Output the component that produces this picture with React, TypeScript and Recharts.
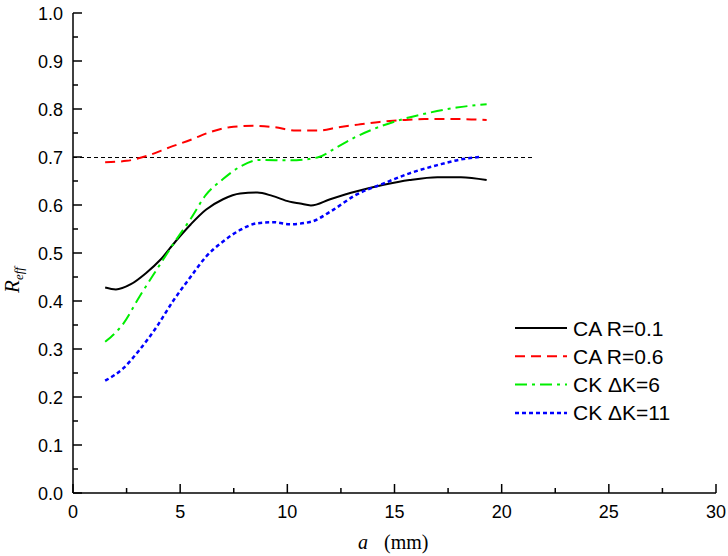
import { LineChart, Line, XAxis, YAxis, Label } from 'recharts'

// a (mm) vs R_eff
const caR01 = [
  { a: 1.5, r: 0.428 }, { a: 2.0, r: 0.424 }, { a: 2.7, r: 0.435 }, { a: 3.4, r: 0.458 },
  { a: 4.1, r: 0.487 }, { a: 4.8, r: 0.525 }, { a: 5.5, r: 0.56 }, { a: 6.2, r: 0.59 },
  { a: 7.0, r: 0.612 }, { a: 7.8, r: 0.624 }, { a: 8.6, r: 0.626 }, { a: 9.3, r: 0.619 },
  { a: 10.1, r: 0.607 }, { a: 10.6, r: 0.603 }, { a: 11.1, r: 0.599 }, { a: 12.0, r: 0.612 },
  { a: 13.2, r: 0.628 }, { a: 14.5, r: 0.642 }, { a: 15.7, r: 0.652 }, { a: 17.0, r: 0.658 },
  { a: 18.1, r: 0.658 }, { a: 19.3, r: 0.652 },
]

const caR06 = [
  { a: 1.5, r: 0.689 }, { a: 2.5, r: 0.692 }, { a: 3.5, r: 0.703 }, { a: 4.5, r: 0.72 },
  { a: 5.5, r: 0.736 }, { a: 6.4, r: 0.752 }, { a: 7.3, r: 0.762 }, { a: 8.4, r: 0.765 },
  { a: 9.4, r: 0.762 }, { a: 10.4, r: 0.755 }, { a: 11.4, r: 0.755 }, { a: 12.4, r: 0.762 },
  { a: 13.4, r: 0.768 }, { a: 14.3, r: 0.773 }, { a: 15.4, r: 0.777 }, { a: 16.4, r: 0.779 },
  { a: 18.1, r: 0.779 }, { a: 19.3, r: 0.777 },
]

const ckDK6 = [
  { a: 1.5, r: 0.315 }, { a: 2.35, r: 0.353 }, { a: 3.1, r: 0.409 }, { a: 3.9, r: 0.465 },
  { a: 4.7, r: 0.52 }, { a: 5.5, r: 0.572 }, { a: 6.2, r: 0.621 }, { a: 7.0, r: 0.654 },
  { a: 7.8, r: 0.68 }, { a: 8.7, r: 0.694 }, { a: 10.1, r: 0.693 }, { a: 11.4, r: 0.699 },
  { a: 12.3, r: 0.72 }, { a: 13.2, r: 0.742 }, { a: 14.3, r: 0.763 }, { a: 15.4, r: 0.779 },
  { a: 16.7, r: 0.793 }, { a: 17.9, r: 0.803 }, { a: 19.3, r: 0.81 },
]

const ckDK11 = [
  { a: 1.5, r: 0.234 }, { a: 2.35, r: 0.26 }, { a: 3.1, r: 0.298 }, { a: 3.9, r: 0.346 },
  { a: 4.7, r: 0.402 }, { a: 5.5, r: 0.451 }, { a: 6.2, r: 0.492 }, { a: 7.0, r: 0.524 },
  { a: 7.8, r: 0.548 }, { a: 8.6, r: 0.562 }, { a: 9.4, r: 0.564 }, { a: 10.1, r: 0.56 },
  { a: 11.1, r: 0.565 }, { a: 12.0, r: 0.586 }, { a: 13.2, r: 0.621 }, { a: 14.5, r: 0.645 },
  { a: 15.7, r: 0.666 }, { a: 17.0, r: 0.683 }, { a: 18.1, r: 0.695 }, { a: 19.0, r: 0.7 },
]

const refLine = [{ a: 0, r: 0.7 }, { a: 21.4, r: 0.7 }]

const xTicks = [0, 2.5, 5, 7.5, 10, 12.5, 15, 17.5, 20, 22.5, 25, 27.5, 30]
const yTicks = [0, 0.05, 0.1, 0.15, 0.2, 0.25, 0.3, 0.35, 0.4, 0.45, 0.5,
  0.55, 0.6, 0.65, 0.7, 0.75, 0.8, 0.85, 0.9, 0.95, 1.0]

const SANS = '"Liberation Sans", Arial, sans-serif'
const SERIF = '"Liberation Serif", "Times New Roman", serif'

const SERIES = [
  { name: 'CA R=0.1', data: caR01, color: '#000000', dash: undefined, width: 2 },
  { name: 'CA R=0.6', data: caR06, color: '#ff0000', dash: '10 6', width: 2 },
  { name: 'CK \u0394K=6', data: ckDK6, color: '#00ee00', dash: '12 5 3 5', width: 2 },
  { name: 'CK \u0394K=11', data: ckDK11, color: '#0000ff', dash: '4 3', width: 2.5 },
]

function YTick({ x, y, payload }: any) {
  const v = payload.value
  const major = Math.abs(v * 10 - Math.round(v * 10)) < 1e-6
  return (
    <g>
      <line x1={x} x2={x + (major ? 9 : 5)} y1={y} y2={y} stroke="#000" strokeWidth={1.5} />
      {major && (
        <text x={x - 10} y={y + 6.5} textAnchor="end" fontSize={18} fontFamily={SANS} fill="#000">
          {v.toFixed(1)}
        </text>
      )}
    </g>
  )
}

function XTick({ x, y, payload }: any) {
  const v = payload.value
  const major = v % 5 === 0
  return (
    <g>
      <line x1={x} x2={x} y1={y} y2={y - (major ? 9 : 5)} stroke="#000" strokeWidth={1.5} />
      {major && (
        <text x={x} y={y + 25} textAnchor="middle" fontSize={18} fontFamily={SANS} fill="#000">
          {v}
        </text>
      )}
    </g>
  )
}

function YTitle() {
  return (
    <text transform="translate(19, 280) rotate(-90)" textAnchor="middle" fontFamily={SERIF} fill="#000">
      <tspan fontSize={21} fontStyle="italic">R</tspan>
      <tspan fontSize={13} fontStyle="italic" dy={4}>eff</tspan>
    </text>
  )
}

function XTitle() {
  return (
    <text x={358} y={549} fontFamily={SERIF} fontSize={20} fill="#000">
      <tspan fontStyle="italic">a</tspan>
      <tspan dx={16}>(mm)</tspan>
    </text>
  )
}

function LegendBox() {
  return (
    <svg width={728} height={556} style={{ position: 'absolute', left: 0, top: 0, pointerEvents: 'none' }}>
      {SERIES.map((s, i) => {
        const y = 328 + i * 28.3
        return (
          <g key={s.name}>
            <line x1={515} x2={567} y1={y} y2={y} stroke={s.color} strokeWidth={s.width} strokeDasharray={s.dash} />
            <text x={573} y={y + 7.5} fontSize={21} fontFamily={SANS} fill="#000">{s.name}</text>
          </g>
        )
      })}
    </svg>
  )
}

export default function App() {
  return (
    <div style={{ position: 'absolute', left: 0, top: 0, width: 728, height: 556, background: '#fff' }}>
      <LineChart width={728} height={556} margin={{ top: 13, right: 12, left: 0, bottom: 0 }}>
        <XAxis
          dataKey="a"
          type="number"
          domain={[0, 30]}
          ticks={xTicks}
          interval={0}
          height={63}
          tickSize={0}
          tickMargin={0}
          tick={<XTick />}
          axisLine={{ stroke: '#000', strokeWidth: 1.5 }}
          allowDataOverflow
        >
          <Label content={<XTitle />} />
        </XAxis>
        <YAxis
          type="number"
          domain={[0, 1]}
          ticks={yTicks}
          interval={0}
          width={73}
          tickSize={0}
          tickMargin={0}
          tick={<YTick />}
          axisLine={{ stroke: '#000', strokeWidth: 1.5 }}
          allowDataOverflow
        >
          <Label content={<YTitle />} />
        </YAxis>
        <Line
          data={refLine}
          dataKey="r"
          stroke="#000"
          strokeWidth={1}
          strokeDasharray="4 3"
          shapeRendering="crispEdges"
          dot={false}
          activeDot={false}
          isAnimationActive={false}
        />
        {SERIES.map(s => (
          <Line
            key={s.name}
            data={s.data}
            dataKey="r"
            name={s.name}
            type="monotone"
            stroke={s.color}
            strokeWidth={s.width}
            strokeDasharray={s.dash}
            dot={false}
            activeDot={false}
            isAnimationActive={false}
          />
        ))}
      </LineChart>
      <LegendBox />
    </div>
  )
}
